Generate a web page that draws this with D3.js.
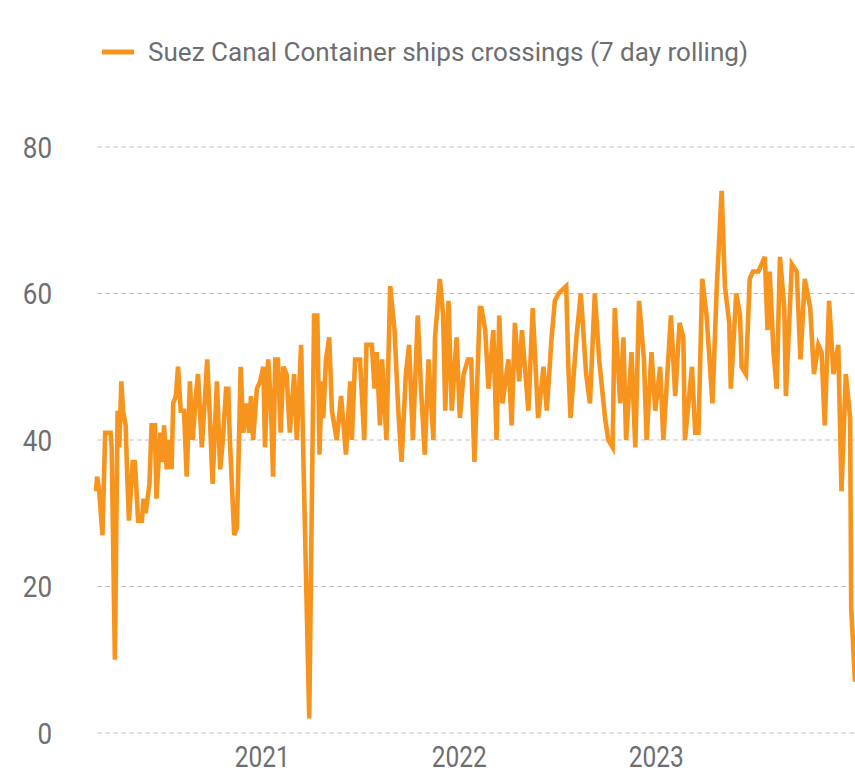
<!DOCTYPE html>
<html>
<head>
<meta charset="utf-8">
<script src="https://cdn.jsdelivr.net/npm/d3@7"></script>
<style>
  html, body { margin: 0; padding: 0; background: #ffffff; }
  svg { display: block; }
  text { font-family: Roboto, "DejaVu Sans", sans-serif; fill: #6d6e71; }
</style>
</head>
<body>
<svg id="chart" width="855" height="774"></svg>
<script>
// ---- data ----
const seriesName = "Suez Canal Container ships crossings (7 day rolling)";
const dates = [
"2020-02-29","2020-03-02","2020-03-06","2020-03-12","2020-03-17","2020-03-27","2020-03-29","2020-04-04","2020-04-09","2020-04-12",
"2020-04-16","2020-04-19","2020-04-24","2020-04-26","2020-04-30","2020-05-07","2020-05-11","2020-05-17","2020-05-24","2020-05-27",
"2020-05-31","2020-06-07","2020-06-11","2020-06-17","2020-06-20","2020-06-27","2020-07-02","2020-07-04","2020-07-09","2020-07-14",
"2020-07-18","2020-07-21","2020-07-26","2020-07-30","2020-08-04","2020-08-10","2020-08-15","2020-08-21","2020-08-26","2020-09-01",
"2020-09-05","2020-09-12","2020-09-18","2020-09-22","2020-09-27","2020-10-02","2020-10-10","2020-10-16","2020-10-21","2020-10-27",
"2020-10-31","2020-11-03","2020-11-11","2020-11-16","2020-11-23","2020-11-28","2020-12-04","2020-12-09","2020-12-12","2020-12-16",
"2020-12-23","2020-12-29","2021-01-04","2021-01-07","2021-01-13","2021-01-18","2021-01-22","2021-01-26","2021-01-31","2021-02-05",
"2021-02-10","2021-02-16","2021-02-22","2021-03-02","2021-03-07","2021-03-15","2021-03-19","2021-03-30","2021-04-08","2021-04-14",
"2021-04-18","2021-04-22","2021-04-25","2021-04-30","2021-05-06","2021-05-11","2021-05-20","2021-05-28","2021-06-06","2021-06-14",
"2021-06-17","2021-06-23","2021-07-02","2021-07-10","2021-07-14","2021-07-24","2021-07-29","2021-08-02","2021-08-08","2021-08-12",
"2021-08-20","2021-08-27","2021-09-04","2021-09-11","2021-09-17","2021-09-25","2021-10-01","2021-10-08","2021-10-17","2021-10-23",
"2021-10-30","2021-11-06","2021-11-15","2021-11-18","2021-11-27","2021-12-03","2021-12-07","2021-12-13","2021-12-19","2021-12-28",
"2022-01-03","2022-01-10","2022-01-18","2022-01-24","2022-01-30","2022-02-09","2022-02-12","2022-02-19","2022-02-25","2022-03-06",
"2022-03-12","2022-03-17","2022-03-23","2022-04-03","2022-04-09","2022-04-15","2022-04-23","2022-04-28","2022-05-10","2022-05-18",
"2022-05-28","2022-06-07","2022-06-13","2022-06-22","2022-06-28","2022-07-05","2022-07-19","2022-07-23","2022-07-27","2022-08-07",
"2022-08-15","2022-08-25","2022-09-01","2022-09-10","2022-09-18","2022-09-29","2022-10-05","2022-10-13","2022-10-17","2022-10-27",
"2022-11-02","2022-11-07","2022-11-17","2022-11-24","2022-12-01","2022-12-10","2022-12-15","2022-12-24","2022-12-31","2023-01-09",
"2023-01-15","2023-01-29","2023-02-06","2023-02-14","2023-02-21","2023-02-24","2023-03-09","2023-03-15","2023-03-21","2023-03-28",
"2023-04-05","2023-04-16","2023-04-24","2023-05-03","2023-05-09","2023-05-17","2023-05-20","2023-05-30","2023-06-06","2023-06-09",
"2023-06-17","2023-06-24","2023-06-30","2023-07-10","2023-07-22","2023-07-27","2023-07-31","2023-08-07","2023-08-13","2023-08-19",
"2023-08-27","2023-08-30","2023-09-10","2023-09-19","2023-09-26","2023-10-04","2023-10-14","2023-10-21","2023-10-29","2023-11-04",
"2023-11-10","2023-11-18","2023-11-26","2023-12-05","2023-12-11","2023-12-19","2023-12-27","2023-12-29","2024-01-05"
];
const values = [
33,35,33,27,41,41,39,10,44,39,
48,44,42,37,29,37,37,29,29,32,
30,34,42,42,32,41,37,42,36,40,
36,45,46,50,44,44,35,48,40,46,
49,39,46,51,43,34,48,36,40,47,
47,40,27,28,50,41,45,41,46,40,
47,48,50,39,51,45,35,51,51,41,
50,49,41,49,40,53,38,2,57,57,
38,48,43,51,54,44,40,46,38,48,
40,51,51,40,53,53,47,52,42,51,
40,61,55,44,37,49,53,40,57,47,
38,51,40,54,62,57,44,59,44,54,
43,49,51,51,37,58,58,55,47,55,
40,57,45,51,42,56,48,55,44,58,
43,50,44,54,59,60,61,50,43,54,
60,49,45,60,51,43,40,39,58,45,
54,40,52,39,59,51,40,52,44,50,
40,57,46,56,54,40,50,41,41,62,
57,45,61,74,61,56,47,60,57,50,
49,62,63,63,65,55,63,52,47,65,
58,46,64,63,51,62,58,49,53,52,
42,59,49,53,33,49,43,17,7
];
const yTicks = [0, 20, 40, 60, 80];
const xTickDates = ["2021-01-01", "2022-01-01", "2023-01-01"];
const xTickLabels = ["2021", "2022", "2023"];

// ---- chart ----
const parse = d3.utcParse("%Y-%m-%d");
const data = dates.map((d, i) => ({ date: parse(d), value: values[i] }));

const svg = d3.select("#chart");
const x = d3.scaleUtc().domain(d3.extent(data, d => d.date)).range([96, 855]);
const y = d3.scaleLinear().domain([0, 80]).range([733, 147]);

// gridlines
svg.append("g")
  .selectAll("line")
  .data(yTicks)
  .join("line")
  .attr("x1", 97).attr("x2", 855)
  .attr("y1", d => y(d)).attr("y2", d => y(d))
  .attr("stroke", "#c4c4c4")
  .attr("stroke-width", 1.2)
  .attr("stroke-dasharray", "5,3");

// y axis labels
const yAxis = d3.axisLeft(y).tickValues(yTicks).tickSize(0).tickPadding(0);
const gy = svg.append("g").attr("transform", "translate(52,0)").call(yAxis);
gy.select(".domain").remove();
gy.selectAll("text")
  .attr("font-size", 29)
  .attr("font-family", "Roboto, 'DejaVu Sans', sans-serif")
  .attr("fill", "#6d6e71")
  .attr("dy", "0.36em")
  .attr("textLength", d => String(d).length * 14.6)
  .attr("lengthAdjust", "spacingAndGlyphs");

// x axis labels
const xAxis = d3.axisBottom(x)
  .tickValues(xTickDates.map(parse))
  .tickFormat((d, i) => xTickLabels[i])
  .tickSize(0).tickPadding(0);
const gx = svg.append("g").attr("transform", "translate(0,746)").call(xAxis);
gx.select(".domain").remove();
gx.selectAll("text")
  .attr("font-size", 29)
  .attr("font-family", "Roboto, 'DejaVu Sans', sans-serif")
  .attr("fill", "#6d6e71")
  .attr("dy", "0.71em")
  .attr("textLength", 55)
  .attr("lengthAdjust", "spacingAndGlyphs");

// line
const line = d3.line().x(d => x(d.date)).y(d => y(d.value));
svg.append("path")
  .datum(data)
  .attr("fill", "none")
  .attr("stroke", "#f7941d")
  .attr("stroke-width", 4.6)
  .attr("d", line);

// legend
const legend = svg.append("g");
legend.append("line")
  .attr("x1", 102).attr("x2", 134).attr("y1", 52).attr("y2", 52)
  .attr("stroke", "#f7941d").attr("stroke-width", 5);
legend.append("text")
  .attr("x", 148).attr("y", 52).attr("dy", "0.35em")
  .attr("font-size", 25)
  .attr("textLength", 600)
  .attr("lengthAdjust", "spacingAndGlyphs")
  .text(seriesName);
</script>
</body>
</html>
